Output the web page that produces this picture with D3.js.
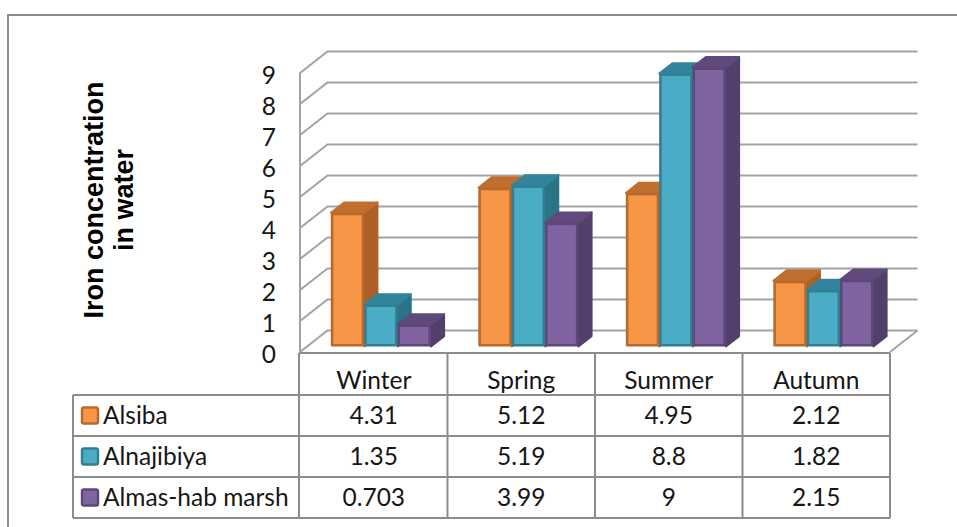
<!DOCTYPE html>
<html>
<head>
<meta charset="utf-8">
<script src="https://cdn.jsdelivr.net/npm/d3@7"></script>
<style>
  html, body { margin: 0; padding: 0; background: #fff; }
  svg { display: block; }
  .lbl { font-family: "Lato", "Liberation Sans", sans-serif; font-size: 24.5px; fill: #161616; }
</style>
</head>
<body>
<script>
// Iron concentration in water by season and station
const categories = ["Winter", "Spring", "Summer", "Autumn"];
const seriesNames = ["Alsiba", "Alnajibiya", "Almas-hab marsh"];
const alsiba = [4.31, 5.12, 4.95, 2.12];
const alnajibiya = [1.35, 5.19, 8.8, 1.82];
const almasHab = [0.703, 3.99, 9, 2.15];
const yTicks = [0, 1, 2, 3, 4, 5, 6, 7, 8, 9];
const yTitle = ["Iron concentration", "in water"];

const seriesValues = [alsiba, alnajibiya, almasHab];
const palette = [
  { front: "#F79646", top: "#BF6F30", side: "#AE6029", edge: "#B8692C" },
  { front: "#4BACC6", top: "#31849B", side: "#2B7487", edge: "#327F93" },
  { front: "#8064A2", top: "#5F4A7B", side: "#523F6B", edge: "#5C4777" }
];

const W = 957, H = 527;
const svg = d3.select("body").append("svg").attr("width", W).attr("height", H);

// chart frame (runs off the right and bottom edges)
svg.append("rect")
  .attr("x", 8).attr("y", 15).attr("width", 1000).attr("height", 1000)
  .attr("fill", "none").attr("stroke", "#8C8C8C").attr("stroke-width", 2);

// 3-D plot geometry: front plane plus a receding depth offset
const left = 300, right = 890, floorY = 352, topY = 73;
const DX = 27.5, DY = -21.5;       // full depth of the walls
const f0 = 0.26, fd = 0.48;        // bar front position and bar depth (fractions of DX/DY)

const x0 = d3.scaleBand().domain(categories).range([left, right]);
const x1 = d3.scaleBand().domain(seriesNames).range([0, x0.bandwidth()])
  .paddingInner(0).paddingOuter(0.7125);
const y = d3.scaleLinear().domain([0, 9]).range([floorY, topY]);

const gridColor = "#A3A3A3";

// walls: side-wall diagonals and back-wall gridlines
const grid = svg.append("g");
grid.selectAll("path.grid").data(yTicks).join("path")
  .attr("class", "grid")
  .attr("d", v => `M${left},${y(v)}L${left + DX},${y(v) + DY}L${right + DX},${y(v) + DY}`)
  .attr("fill", "none").attr("stroke", gridColor).attr("stroke-width", 2);
// vertical edge of side wall and right edge of floor
grid.append("line")
  .attr("x1", left).attr("x2", left).attr("y1", y(9)).attr("y2", y(0))
  .attr("stroke", gridColor).attr("stroke-width", 2);
grid.append("line")
  .attr("x1", right).attr("y1", y(0)).attr("x2", right + DX).attr("y2", y(0) + DY)
  .attr("stroke", gridColor).attr("stroke-width", 2);

// value axis labels
const yAxis = svg.append("g")
  .attr("transform", `translate(${left},0)`)
  .call(d3.axisLeft(y).tickValues(yTicks).tickSize(0).tickPadding(24).tickFormat(d3.format("d")));
yAxis.select(".domain").remove();
yAxis.selectAll("text")
  .attr("class", "lbl").attr("fill", null)
  .attr("dy", "0.36em")
  .attr("transform", "translate(0,2)");

// 3-D columns, painted left to right so neighbours overlap correctly
const bars = [];
categories.forEach((c, ci) => {
  seriesNames.forEach((s, si) => {
    bars.push({ c, s, si, v: seriesValues[si][ci] });
  });
});
const barG = svg.append("g").attr("stroke-linejoin", "round");
bars.forEach(b => {
  const col = palette[b.si];
  const bw = x1.bandwidth();
  const bx = x0(b.c) + x1(b.s) + f0 * DX;
  const yb = y(0) + f0 * DY;
  const yt = y(b.v) + f0 * DY;
  const ddx = fd * DX, ddy = fd * DY;
  const g = barG.append("g");
  g.append("path")
    .attr("d", `M${bx + bw},${yt}L${bx + bw + ddx},${yt + ddy}L${bx + bw + ddx},${yb + ddy}L${bx + bw},${yb}Z`)
    .attr("fill", col.side).attr("stroke", col.side).attr("stroke-width", 2);
  g.append("path")
    .attr("d", `M${bx},${yt}L${bx + ddx},${yt + ddy}L${bx + bw + ddx},${yt + ddy}L${bx + bw},${yt}Z`)
    .attr("fill", col.top).attr("stroke", col.top).attr("stroke-width", 2);
  g.append("rect")
    .attr("x", bx + 1.2).attr("y", yt + 1.2)
    .attr("width", bw - 2.4).attr("height", Math.max(0, yb - yt - 2.4))
    .attr("fill", col.front).attr("stroke", col.edge).attr("stroke-width", 2.6);
});

// data table under the plot
const tableTop = 353, headerH = 42, rowH = 41, tableLeft = 73;
const lineColor = "#8C8C8C";
const table = svg.append("g");
const rowY = i => tableTop + headerH + i * rowH;

// horizontal rules
table.append("line")
  .attr("x1", left - 1).attr("x2", right).attr("y1", tableTop).attr("y2", tableTop)
  .attr("stroke", lineColor).attr("stroke-width", 2);
table.selectAll("line.row").data(d3.range(seriesNames.length + 1)).join("line")
  .attr("class", "row")
  .attr("x1", tableLeft).attr("x2", right)
  .attr("y1", i => rowY(i)).attr("y2", i => rowY(i))
  .attr("stroke", lineColor).attr("stroke-width", 2);
// vertical rules
const colEdges = categories.map(c => x0(c)).concat([right]);
table.selectAll("line.col").data(colEdges).join("line")
  .attr("class", "col")
  .attr("x1", (d, i) => i === 0 ? d - 1 : d).attr("x2", (d, i) => i === 0 ? d - 1 : d)
  .attr("y1", tableTop).attr("y2", rowY(seriesNames.length))
  .attr("stroke", lineColor).attr("stroke-width", 2);
table.append("line")
  .attr("x1", tableLeft).attr("x2", tableLeft)
  .attr("y1", rowY(0)).attr("y2", rowY(seriesNames.length))
  .attr("stroke", lineColor).attr("stroke-width", 2);

// header: category names
table.selectAll("text.head").data(categories).join("text")
  .attr("class", "lbl head")
  .attr("x", c => x0(c) + x0.bandwidth() / 2)
  .attr("y", tableTop + headerH - 6)
  .attr("text-anchor", "middle")
  .text(c => c);

// rows: legend key, series name, values
seriesNames.forEach((s, si) => {
  const cy = rowY(si) + rowH / 2;
  table.append("rect")
    .attr("x", 82).attr("y", cy - 8).attr("width", 16).attr("height", 16)
    .attr("rx", 2)
    .attr("fill", palette[si].front).attr("stroke", palette[si].edge).attr("stroke-width", 2.4);
  table.append("text")
    .attr("class", "lbl")
    .attr("x", 103).attr("y", cy).attr("dy", "0.36em")
    .text(s);
  table.selectAll(null).data(categories).join("text")
    .attr("class", "lbl")
    .attr("x", c => x0(c) + x0.bandwidth() / 2)
    .attr("y", cy).attr("dy", "0.36em")
    .attr("text-anchor", "middle")
    .text((c, ci) => String(seriesValues[si][ci]));
});

// value axis title
const title = svg.append("text")
  .attr("transform", "translate(0,200) rotate(-90)")
  .attr("text-anchor", "middle")
  .style("font-family", "'Liberation Sans', Arial, sans-serif")
  .style("font-weight", "bold")
  .style("font-size", "27px")
  .attr("fill", "#000");
title.selectAll("tspan").data(yTitle).join("tspan")
  .attr("x", 0)
  .attr("y", (d, i) => i === 0 ? 102.5 : 133)
  .text(d => d);
</script>
</body>
</html>
